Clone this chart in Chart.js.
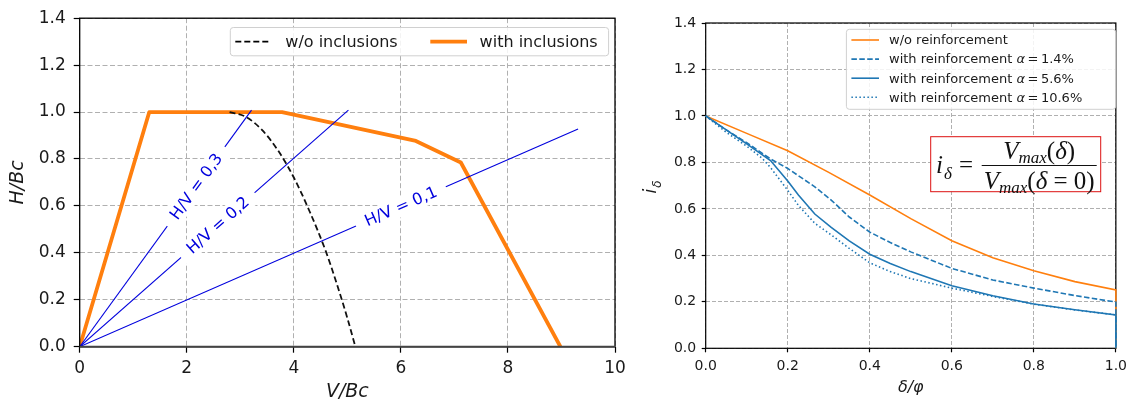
<!DOCTYPE html>
<html>
<head>
<meta charset="utf-8">
<script src="https://cdn.jsdelivr.net/npm/chart.js@4.4.1/dist/chart.umd.min.js"></script>
<style>
  html, body { margin: 0; padding: 0; background: #fff; }
  #wrap { position: relative; width: 1133px; height: 402px; overflow: hidden; }
  canvas { position: absolute; top: 0; }
  #left { left: 0; }
  #right { left: 632px; }
</style>
</head>
<body>
<div id="wrap">
  <canvas id="left" width="632" height="402"></canvas>
  <canvas id="right" width="501" height="402"></canvas>
</div>
<script>
Chart.defaults.font.family = "'DejaVu Sans', sans-serif";
Chart.defaults.color = "#1a1a1a";

// ---- left plot: interaction diagram H/Bc vs V/Bc
const leftXTicks = [0, 2, 4, 6, 8, 10];
const leftYTicks = [0, 0.2, 0.4, 0.6, 0.8, 1.0, 1.2, 1.4];

const withInclV = [0, 1.3, 3.78, 6.28, 7.12, 8.98];
const withInclH = [0, 1.0, 1.0, 0.877, 0.785, 0.0];

const woInclV = [2.8, 3.1, 3.4, 3.7, 4.0, 4.3, 4.6, 4.8, 5.0, 5.15];
const woInclH = [1.0, 0.98, 0.925, 0.838, 0.721, 0.574, 0.405, 0.27, 0.122, 0.0];

// load-inclination rays H/V
const ratioNames = ["H/V = 0,3", "H/V = 0,2", "H/V = 0,1"];
const ratioEndV = [3.21, 5.02, 9.31];
const ratioEndH = [1.008, 1.008, 0.928];
const ratioLabelV = [2.175, 2.58, 6.0];

// ---- right plot: reduction factor i_delta vs delta/phi
const rightXTicks = [0, 0.2, 0.4, 0.6, 0.8, 1.0];
const rightYTicks = [0, 0.2, 0.4, 0.6, 0.8, 1.0, 1.2, 1.4];

const dWo = [0, 0.1, 0.2, 0.3, 0.4, 0.5, 0.6, 0.7, 0.8, 0.9, 1.0, 1.0];
const iWo = [1.0, 0.925, 0.85, 0.757, 0.66, 0.558, 0.463, 0.39, 0.334, 0.287, 0.251, 0];

const d14 = [0, 0.05, 0.1, 0.158, 0.2, 0.266, 0.306, 0.35, 0.4, 0.45, 0.5, 0.6, 0.7, 0.8, 0.9, 1.0, 1.0];
const i14 = [1.0, 0.94, 0.885, 0.815, 0.774, 0.695, 0.638, 0.565, 0.5, 0.455, 0.415, 0.344, 0.294, 0.259, 0.227, 0.199, 0];

const d56 = [0, 0.05, 0.1, 0.158, 0.2, 0.226, 0.266, 0.306, 0.35, 0.4, 0.45, 0.5, 0.6, 0.7, 0.8, 0.9, 1.0, 1.0];
const i56 = [1.0, 0.94, 0.88, 0.808, 0.72, 0.66, 0.578, 0.52, 0.462, 0.405, 0.365, 0.33, 0.269, 0.226, 0.191, 0.166, 0.144, 0];

const d106 = [0, 0.05, 0.1, 0.138, 0.158, 0.2, 0.226, 0.266, 0.306, 0.35, 0.4, 0.45, 0.5, 0.6, 0.7, 0.8, 0.9, 1.0, 1.0];
const i106 = [1.0, 0.93, 0.87, 0.817, 0.778, 0.68, 0.615, 0.538, 0.488, 0.43, 0.368, 0.33, 0.3, 0.259, 0.223, 0.19, 0.165, 0.144, 0];

const alphaVals = ["1.4%", "5.6%", "10.6%"];

const ORANGE = "#ff7f0e";
const BLUE = "#1f77b4";
const RAY = "#0000dd";
const GRID = "#b0b0b0";

const pts = (xs, ys) => xs.map((x, k) => ({ x: x, y: ys[k] }));

function seg(ctx, text, font, x, y) {
  ctx.font = font;
  ctx.fillText(text, x, y);
  return x + ctx.measureText(text).width;
}

function segWidth(ctx, parts) {
  let w = 0;
  parts.forEach(p => { ctx.font = p[1]; w += ctx.measureText(p[0]).width; });
  return w;
}

// --- extras for the left chart: ray labels, spines, legend
const leftDecor = {
  id: "leftDecor",
  afterDatasetsDraw(chart) {
    const { ctx, chartArea: a, scales: { x, y } } = chart;
    ctx.save();

    ratioNames.forEach((name, k) => {
      const cv = ratioLabelV[k];
      const ch = cv * ratioEndH[k] / ratioEndV[k];
      const px = x.getPixelForValue(cv);
      const py = y.getPixelForValue(ch);
      const ang = Math.atan2(
        y.getPixelForValue(ratioEndH[k]) - y.getPixelForValue(0),
        x.getPixelForValue(ratioEndV[k]) - x.getPixelForValue(0)
      );
      ctx.save();
      ctx.translate(px, py);
      ctx.rotate(ang);
      ctx.fillStyle = "#fff";
      ctx.fillRect(-49, -10, 98, 20);
      ctx.fillStyle = RAY;
      ctx.font = "16px 'DejaVu Sans'";
      ctx.textAlign = "center";
      ctx.textBaseline = "middle";
      ctx.fillText(name, 0, 1);
      ctx.restore();
    });

    // spines
    ctx.strokeStyle = "#000";
    ctx.lineWidth = 1.3;
    ctx.strokeRect(a.left, a.top, a.right - a.left, a.bottom - a.top);
    ctx.strokeStyle = "#444";
    ctx.lineWidth = 2;
    ctx.beginPath();
    ctx.moveTo(a.left, a.bottom);
    ctx.lineTo(a.right, a.bottom);
    ctx.stroke();

    // legend (one row, upper right)
    const bx = a.right - 384.7, by = a.top + 9.3;
    ctx.beginPath();
    ctx.roundRect(bx, by, 378.3, 28.3, 3);
    ctx.fillStyle = "rgba(255,255,255,0.85)";
    ctx.fill();
    ctx.strokeStyle = "#d0d0d0";
    ctx.lineWidth = 1;
    ctx.stroke();

    const ly = by + 14.2;
    ctx.setLineDash([6, 3]);
    ctx.strokeStyle = "#000";
    ctx.lineWidth = 1.8;
    ctx.beginPath();
    ctx.moveTo(bx + 5, ly);
    ctx.lineTo(bx + 40, ly);
    ctx.stroke();
    ctx.setLineDash([]);
    ctx.strokeStyle = ORANGE;
    ctx.lineWidth = 3.8;
    ctx.beginPath();
    ctx.moveTo(bx + 200, ly);
    ctx.lineTo(bx + 236.7, ly);
    ctx.stroke();

    ctx.fillStyle = "#1a1a1a";
    ctx.textBaseline = "middle";
    ctx.textAlign = "left";
    ctx.font = "16px 'DejaVu Sans'";
    ctx.fillText("w/o inclusions", bx + 55, ly + 1);
    ctx.fillText("with inclusions", bx + 249.3, ly + 1);

    ctx.restore();
  }
};

// --- extras for the right chart: spines, legend, formula, y title
const rightDecor = {
  id: "rightDecor",
  beforeDatasetsDraw(chart) {
    const { ctx, chartArea: a } = chart;
    ctx.save();
    ctx.strokeStyle = "#000";
    ctx.lineWidth = 1.2;
    ctx.strokeRect(a.left, a.top, a.right - a.left, a.bottom - a.top);
    ctx.restore();
  },
  afterDatasetsDraw(chart) {
    const { ctx, chartArea: a } = chart;
    ctx.save();

    // legend
    const bx = a.left + 140.7, by = a.top + 6.3;
    ctx.beginPath();
    ctx.roundRect(bx, by, 269.3, 80, 3);
    ctx.fillStyle = "rgba(255,255,255,0.85)";
    ctx.fill();
    ctx.strokeStyle = "#d0d0d0";
    ctx.lineWidth = 1;
    ctx.stroke();

    const styles = [
      { c: ORANGE, d: [] },
      { c: BLUE, d: [5.5, 2.4] },
      { c: BLUE, d: [] },
      { c: BLUE, d: [1.5, 2.5] }
    ];
    const sans = "13px 'DejaVu Sans'";
    const ital = "italic 13px 'DejaVu Sans'";
    ctx.textBaseline = "middle";
    ctx.textAlign = "left";
    styles.forEach((s, r) => {
      const ry = by + 10.7 + r * 19.1;
      ctx.strokeStyle = s.c;
      ctx.lineWidth = 1.6;
      ctx.setLineDash(s.d);
      ctx.beginPath();
      ctx.moveTo(bx + 5, ry);
      ctx.lineTo(bx + 32.6, ry);
      ctx.stroke();
      ctx.setLineDash([]);
      ctx.fillStyle = "#1a1a1a";
      let tx = bx + 42.6;
      if (r === 0) {
        seg(ctx, "w/o reinforcement", sans, tx, ry + 1);
      } else {
        tx = seg(ctx, "with reinforcement ", sans, tx, ry + 1);
        tx = seg(ctx, "α", ital, tx, ry + 1) + 2.5;
        tx = seg(ctx, "=", sans, tx, ry + 1) + 2.5;
        seg(ctx, alphaVals[r - 1], sans, tx, ry + 1);
      }
    });

    // formula box
    const fx = 298.7, fy = 136.7, fw = 170, fh = 55;
    ctx.fillStyle = "#fff";
    ctx.fillRect(fx, fy, fw, fh);
    ctx.strokeStyle = "#dd1111";
    ctx.lineWidth = 1;
    ctx.strokeRect(fx, fy, fw, fh);

    const serif = "'Liberation Serif', 'DejaVu Serif', serif";
    const big = "25px " + serif, bigI = "italic 25px " + serif, subI = "italic 17px " + serif;
    ctx.fillStyle = "#111";
    ctx.textBaseline = "alphabetic";
    let cx = seg(ctx, "i", bigI, 304, 173);
    seg(ctx, "δ", subI, cx + 1, 179);
    seg(ctx, "=", big, 327, 173);

    const barL = 349.7, barR = 464.7, barMid = (barL + barR) / 2;
    ctx.strokeStyle = "#111";
    ctx.lineWidth = 1.1;
    ctx.beginPath();
    ctx.moveTo(barL, 165.5);
    ctx.lineTo(barR, 165.5);
    ctx.stroke();

    const num = [["V", bigI], ["max", subI], ["(", big], ["δ", bigI], [")", big]];
    const den = [["V", bigI], ["max", subI], ["(", big], ["δ", bigI], [" = 0", big], [")", big]];
    [[num, 158.5], [den, 188.5]].forEach(([parts, base]) => {
      let px = barMid - segWidth(ctx, parts) / 2;
      parts.forEach(p => {
        px = seg(ctx, p[0], p[1], px, p[0] === "max" ? base + 4 : base);
      });
    });

    ctx.restore();

    // y axis title i_delta, rotated
    ctx.save();
    ctx.translate(24, 187);
    ctx.rotate(-Math.PI / 2);
    ctx.fillStyle = "#1a1a1a";
    ctx.textBaseline = "alphabetic";
    ctx.font = "italic 17px 'DejaVu Sans'";
    const w1 = ctx.measureText("i").width;
    ctx.font = "italic 12px 'DejaVu Sans'";
    const w2 = ctx.measureText("δ").width;
    let sx = -(w1 + w2 + 1) / 2;
    sx = seg(ctx, "i", "italic 17px 'DejaVu Sans'", sx, 0) + 1;
    seg(ctx, "δ", "italic 12px 'DejaVu Sans'", sx, 5);
    ctx.restore();
  }
};

function gridOpts(tick) {
  return { color: GRID, lineWidth: 1, tickLength: tick, tickColor: "#000", tickWidth: 1.2 };
}

// left chart
new Chart(document.getElementById("left"), {
  type: "scatter",
  data: {
    datasets: [
      {
        label: "ray 0.3", data: [{ x: 0, y: 0 }, { x: ratioEndV[0], y: ratioEndH[0] }],
        showLine: true, borderColor: RAY, borderWidth: 1.1, pointRadius: 0, order: 1
      },
      {
        label: "ray 0.2", data: [{ x: 0, y: 0 }, { x: ratioEndV[1], y: ratioEndH[1] }],
        showLine: true, borderColor: RAY, borderWidth: 1.1, pointRadius: 0, order: 1
      },
      {
        label: "ray 0.1", data: [{ x: 0, y: 0 }, { x: ratioEndV[2], y: ratioEndH[2] }],
        showLine: true, borderColor: RAY, borderWidth: 1.1, pointRadius: 0, order: 1
      },
      {
        label: "w/o inclusions", data: pts(woInclV, woInclH),
        showLine: true, borderColor: "#111", borderWidth: 1.8, borderDash: [6, 3.2],
        cubicInterpolationMode: "monotone", pointRadius: 0, order: 2
      },
      {
        label: "with inclusions", data: pts(withInclV, withInclH),
        showLine: true, borderColor: ORANGE, borderWidth: 3.8, borderJoinStyle: "round",
        pointRadius: 0, order: 3
      }
    ]
  },
  options: {
    responsive: false,
    animation: false,
    layout: { padding: { left: 0, top: 16, right: 17, bottom: 0 } },
    plugins: { legend: { display: false }, tooltip: { enabled: false } },
    scales: {
      x: {
        type: "linear", min: 0, max: 10,
        afterBuildTicks: s => { s.ticks = leftXTicks.map(v => ({ value: v })); },
        afterFit: s => { s.height = 55.3; },
        ticks: { font: { size: 17 }, padding: 6, maxRotation: 0, autoSkip: false, callback: v => String(v) },
        grid: gridOpts(6),
        border: { display: false, dash: [5, 2.5] },
        title: { display: true, text: "V/Bc", font: { size: 19, style: "italic", lineHeight: 1 }, padding: { top: 0, bottom: 0 } }
      },
      y: {
        type: "linear", min: 0, max: 1.4,
        afterBuildTicks: s => { s.ticks = leftYTicks.map(v => ({ value: v })); },
        afterFit: s => { s.width = 79.7; },
        ticks: { font: { size: 17 }, padding: 8, autoSkip: false, callback: v => v.toFixed(1) },
        grid: gridOpts(6),
        border: { display: false, dash: [5, 2.5] },
        title: { display: true, text: "H/Bc", font: { size: 19, style: "italic", lineHeight: 1 }, padding: { top: 8.5, bottom: 0 } }
      }
    }
  },
  plugins: [leftDecor]
});

// right chart
new Chart(document.getElementById("right"), {
  type: "scatter",
  data: {
    datasets: [
      {
        label: "with reinforcement α = 10.6%", data: pts(d106, i106),
        showLine: true, borderColor: BLUE, borderWidth: 1.6, borderDash: [1.5, 2.5], pointRadius: 0, order: 1, clip: 4
      },
      {
        label: "with reinforcement α = 5.6%", data: pts(d56, i56),
        showLine: true, borderColor: BLUE, borderWidth: 1.6, pointRadius: 0, order: 2, clip: 4
      },
      {
        label: "with reinforcement α = 1.4%", data: pts(d14, i14),
        showLine: true, borderColor: BLUE, borderWidth: 1.6, borderDash: [5.5, 2.4], pointRadius: 0, order: 3, clip: 4
      },
      {
        label: "w/o reinforcement", data: pts(dWo, iWo),
        showLine: true, borderColor: ORANGE, borderWidth: 1.6, pointRadius: 0, order: 4, clip: 4
      }
    ]
  },
  options: {
    responsive: false,
    animation: false,
    layout: { padding: { left: 0, top: 23, right: 12, bottom: 0 } },
    plugins: { legend: { display: false }, tooltip: { enabled: false } },
    scales: {
      x: {
        type: "linear", min: 0, max: 1,
        afterBuildTicks: s => { s.ticks = rightXTicks.map(v => ({ value: v })); },
        afterFit: s => { s.height = 53.7; },
        ticks: { font: { size: 14 }, padding: 6, maxRotation: 0, autoSkip: false, callback: v => v.toFixed(1) },
        grid: gridOpts(4),
        border: { display: false, dash: [4, 2] },
        title: { display: true, text: "δ/φ", font: { size: 16, style: "italic", lineHeight: 1 }, padding: { top: 0, bottom: 6 } }
      },
      y: {
        type: "linear", min: 0, max: 1.4,
        afterBuildTicks: s => { s.ticks = rightYTicks.map(v => ({ value: v })); },
        afterFit: s => { s.width = 73.7; },
        ticks: { font: { size: 14 }, padding: 5.5, autoSkip: false, callback: v => v.toFixed(1) },
        grid: gridOpts(4),
        border: { display: false, dash: [4, 2] }
      }
    }
  },
  plugins: [rightDecor]
});
</script>
</body>
</html>
